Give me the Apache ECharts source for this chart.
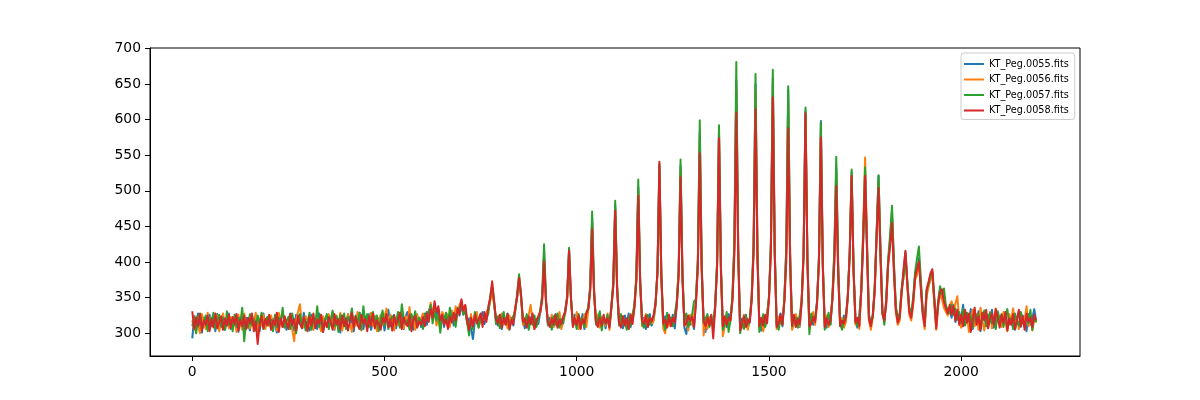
<!DOCTYPE html>
<html><head><meta charset="utf-8">
<script src="https://cdn.jsdelivr.net/npm/echarts@6/dist/echarts.min.js"></script>
<style>html,body{margin:0;padding:0;background:#fff}#c{width:1200px;height:400px}</style>
</head><body><div id="c"></div>
<script>
const seriesNames = ['KT_Peg.0055.fits','KT_Peg.0056.fits','KT_Peg.0057.fits','KT_Peg.0058.fits'];
const xTicks = [0, 500, 1000, 1500, 2000];
const yTicks = [300, 350, 400, 450, 500, 550, 600, 650, 700];

const sampleIndex = [
  0,5,10,15,20,25,30,35,40,45,50,55,60,65,70,75,80,85,90,95,
  100,105,110,115,120,125,130,135,140,145,150,155,160,165,170,175,180,185,190,195,
  200,205,210,215,220,225,230,235,240,245,250,255,260,265,270,275,280,285,290,295,
  300,305,310,315,320,325,330,335,340,345,350,355,360,365,370,375,380,385,390,395,
  400,405,410,415,420,425,430,435,440,445,450,455,460,465,470,475,480,485,490,495,
  500,505,510,515,520,525,530,535,540,545,550,555,560,565,570,575,580,585,590,595,
  600,605,610,615,620,625,630,635,640,645,650,655,660,665,670,675,680,685,690,695,
  700,705,710,715,720,725,730,735,740,745,750,755,760,765,770,775,780,785,790,795,
  800,805,810,815,820,825,830,835,840,845,850,855,860,865,870,875,880,885,890,895,
  900,905,910,915,920,925,930,935,940,945,950,955,960,965,970,975,980,985,990,995,
  1000,1005,1010,1015,1020,1025,1030,1035,1040,1045,1050,1055,1060,1065,1070,1075,1080,1085,1090,1095,
  1100,1105,1110,1115,1120,1125,1130,1135,1140,1145,1150,1155,1160,1165,1170,1175,1180,1185,1190,1195,
  1200,1205,1210,1215,1220,1225,1230,1235,1240,1245,1250,1255,1260,1265,1270,1275,1280,1285,1290,1295,
  1300,1305,1310,1315,1320,1325,1330,1335,1340,1345,1350,1355,1360,1365,1370,1375,1380,1385,1390,1395,
  1400,1405,1410,1415,1420,1425,1430,1435,1440,1445,1450,1455,1460,1465,1470,1475,1480,1485,1490,1495,
  1500,1505,1510,1515,1520,1525,1530,1535,1540,1545,1550,1555,1560,1565,1570,1575,1580,1585,1590,1595,
  1600,1605,1610,1615,1620,1625,1630,1635,1640,1645,1650,1655,1660,1665,1670,1675,1680,1685,1690,1695,
  1700,1705,1710,1715,1720,1725,1730,1735,1740,1745,1750,1755,1760,1765,1770,1775,1780,1785,1790,1795,
  1800,1805,1810,1815,1820,1825,1830,1835,1840,1845,1850,1855,1860,1865,1870,1875,1880,1885,1890,1895,
  1900,1905,1910,1915,1920,1925,1930,1935,1940,1945,1950,1955,1960,1965,1970,1975,1980,1985,1990,1995,
  2000,2005,2010,2015,2020,2025,2030,2035,2040,2045,2050,2055,2060,2065,2070,2075,2080,2085,2090,2095,
  2100,2105,2110,2115,2120,2125,2130,2135,2140,2145,2150,2155,2160,2165,2170,2175,2180,2185,2190,2195
];

const kt0055 = [
  293,324,308,328,312,301,322,315,306,326,310,320,303,327,314,309,323,305,318,328,
  306,321,311,327,302,318,325,308,322,313,304,326,316,309,324,303,319,328,310,317,
  325,307,320,313,301,327,316,309,323,305,318,328,311,304,326,314,320,307,329,312,
  317,304,326,311,321,306,328,313,302,319,325,310,316,329,305,322,312,301,324,315,
  309,327,314,320,303,325,311,329,316,306,322,313,327,305,318,324,308,321,312,326,
  304,322,333,310,318,326,307,321,313,329,306,324,330,311,319,305,327,314,322,309,
  318,328,312,332,338,327,341,322,335,316,324,309,328,314,320,330,311,326,336,325,
  340,326,336,314,321,307,292,318,325,310,322,330,313,327,332,348,362,343,316,311,
  326,306,320,313,328,309,322,311,333,350,376,352,318,307,324,311,321,326,309,320,
  313,330,349,412,345,313,322,308,318,327,310,323,314,320,331,349,418,350,311,326,
  309,320,313,327,306,322,335,364,462,360,318,310,328,315,324,307,321,312,337,369,
  480,365,314,320,307,325,312,328,309,322,338,377,505,372,316,322,306,319,327,311,
  320,341,386,536,380,312,324,309,320,314,326,307,340,386,535,382,308,299,324,312,
  318,306,345,400,582,395,314,302,320,311,325,308,338,397,585,392,312,320,309,327,
  321,350,425,655,418,305,321,312,326,308,317,349,422,650,415,313,304,320,311,325,
  350,424,658,416,311,319,328,310,348,418,642,412,310,324,315,322,309,345,412,612,
  402,314,324,312,320,345,408,598,400,318,308,321,313,350,410,532,392,318,310,325,
  318,352,412,526,390,317,308,322,360,430,528,420,322,312,326,362,440,521,420,330,
  316,346,400,430,470,395,335,318,325,360,385,414,370,332,324,345,380,385,405,370,
  330,312,356,368,378,385,345,310,342,360,352,340,338,330,335,322,340,316,331,314,
  322,340,312,327,318,334,306,325,315,331,303,320,328,310,326,316,333,308,322,329,
  313,324,318,330,307,322,314,328,305,320,331,309,325,316,303,327,312,321,334,317
];

const kt0056 = [
  318,305,324,312,300,327,315,306,329,311,322,308,319,325,303,316,328,310,321,307,
  323,309,319,302,326,314,305,328,312,320,307,324,315,329,303,318,311,326,306,321,
  310,325,313,321,304,329,316,309,322,312,319,327,305,289,318,330,341,314,308,324,
  326,310,322,305,318,328,312,303,324,314,309,327,316,320,306,325,311,329,304,319,
  308,327,316,302,323,311,330,313,304,325,318,306,321,329,310,324,303,317,326,312,
  314,335,309,326,318,304,322,311,329,315,307,324,313,337,310,321,305,327,316,320,
  328,316,330,322,343,327,336,311,320,306,330,324,315,327,309,332,320,338,326,340,
  346,330,338,315,303,327,312,320,330,308,325,316,322,329,335,345,358,340,322,318,
  309,328,313,322,307,325,316,321,336,352,380,350,312,322,310,326,340,318,306,315,
  322,329,347,405,343,318,311,326,309,320,314,330,306,318,328,348,412,346,317,313,
  330,306,321,314,327,309,333,361,455,357,314,326,308,323,316,311,328,305,334,367,
  476,362,320,309,324,312,318,306,327,315,336,375,500,370,310,318,327,309,322,314,
  317,340,384,532,378,307,300,327,311,322,315,326,339,384,530,380,313,318,304,326,
  312,324,344,398,575,392,297,318,306,323,315,309,336,395,580,390,296,310,325,314,
  320,349,422,645,415,311,308,326,314,305,322,348,420,642,412,309,318,303,316,327,
  349,422,650,414,306,323,314,319,346,410,625,405,305,312,327,316,310,344,408,606,
  399,306,318,330,312,343,404,586,395,312,325,309,316,349,405,526,388,311,322,308,
  316,350,410,522,388,312,318,306,362,445,547,428,318,305,322,358,436,512,412,326,
  322,340,396,425,466,390,330,312,318,355,380,408,365,326,318,340,375,382,400,365,
  326,306,352,365,375,383,340,305,338,356,348,336,334,325,338,345,330,342,352,318,
  308,331,314,326,302,322,333,310,327,305,336,318,304,325,312,330,307,321,335,316,
  324,309,330,316,303,327,318,335,311,322,306,329,314,320,338,310,326,304,321,315
];

const kt0057 = [
  310,322,300,319,328,307,316,325,303,321,314,329,307,318,326,310,322,305,331,312,
  319,303,326,309,322,315,336,289,317,308,327,311,320,304,325,313,329,306,318,323,
  312,319,303,326,309,322,315,336,308,317,323,306,328,313,300,320,327,311,318,304,
  316,329,305,321,312,338,309,325,302,319,327,306,318,332,310,324,302,326,314,328,
  306,323,317,335,310,324,314,329,305,338,316,327,309,321,330,312,325,303,320,332,
  311,327,306,318,324,322,315,330,308,341,320,313,319,305,327,318,331,309,322,315,
  306,323,330,325,340,314,331,318,327,301,325,318,329,312,336,320,327,309,330,336,
  343,327,331,315,297,319,306,330,318,308,324,315,328,320,328,352,368,346,313,324,
  307,321,330,313,327,305,318,324,331,356,383,354,320,313,327,305,318,312,325,309,
  319,332,354,425,350,311,316,305,324,312,328,308,320,314,333,352,420,348,314,318,
  306,327,315,321,309,330,336,367,471,364,312,319,331,304,322,313,326,310,338,372,
  486,368,311,327,313,318,305,322,311,326,340,381,516,376,313,308,321,326,312,319,
  323,342,387,538,381,318,305,329,316,322,310,327,344,389,544,385,316,328,309,318,
  326,345,348,405,599,398,315,313,327,309,320,312,340,400,592,395,305,313,330,302,
  319,353,430,681,422,300,316,306,324,312,320,351,427,664,419,302,313,327,309,321,
  352,428,670,420,313,305,320,312,349,420,647,413,310,318,322,308,326,346,414,617,
  405,299,328,316,320,344,406,596,398,305,316,329,312,352,418,548,398,314,305,319,
  324,353,415,530,393,320,311,324,361,438,533,425,326,316,322,366,442,522,418,334,
  312,350,404,438,479,400,338,322,328,362,378,410,372,336,328,350,386,405,422,375,
  332,316,360,370,380,386,348,314,346,366,355,363,340,332,328,340,326,335,319,330,
  315,334,311,329,317,325,308,330,319,327,306,324,332,310,320,329,314,323,306,331,
  319,327,309,324,334,312,321,306,328,317,311,330,320,308,326,314,333,305,322,316
];

const kt0058 = [
  331,306,322,310,327,304,318,312,325,303,320,309,328,307,316,324,305,321,311,326,
  308,323,313,327,304,319,310,325,306,322,314,328,303,317,285,312,324,307,320,311,
  326,305,318,312,329,302,321,309,324,315,306,327,311,320,304,325,313,308,322,316,
  303,324,311,328,307,319,314,326,302,318,309,323,316,305,327,312,320,306,325,310,
  321,304,317,329,308,323,312,306,326,314,320,303,324,311,328,307,318,313,305,322,
  315,327,309,320,304,325,312,318,329,306,322,314,310,326,303,319,324,308,317,312,
  323,310,328,316,334,322,345,330,338,318,326,312,320,306,324,315,329,318,335,327,
  348,332,340,318,305,322,310,326,314,320,328,309,330,316,338,350,373,345,320,314,
  326,308,322,312,327,306,319,313,335,352,378,355,316,320,308,324,313,328,306,318,
  318,330,346,401,344,316,309,321,312,326,308,319,313,324,330,350,416,349,309,321,
  312,325,306,320,314,328,334,360,446,355,316,309,322,311,326,314,321,308,336,366,
  472,361,316,308,324,311,321,306,326,313,337,373,493,369,318,313,325,309,322,317,
  326,343,388,541,383,314,319,308,326,310,322,315,338,380,519,375,311,314,325,318,
  323,309,341,392,553,387,318,310,322,312,326,293,335,392,574,388,310,324,312,322,
  318,346,410,610,405,304,313,324,309,320,315,347,412,615,404,310,322,311,326,314,
  348,415,631,408,309,314,326,312,344,400,588,394,311,326,309,320,313,345,410,609,
  401,310,313,323,316,342,398,575,392,309,321,312,318,348,398,507,382,310,318,314,
  322,351,412,521,386,315,322,310,358,428,521,415,320,310,326,360,438,504,405,328,
  318,343,398,422,455,386,332,315,322,358,390,416,368,330,322,343,378,390,401,362,
  328,310,362,372,384,390,350,307,340,359,362,345,336,328,340,326,338,318,333,312,
  326,310,333,315,328,302,320,336,312,324,305,329,318,333,307,320,328,312,334,322,
  308,326,315,330,304,321,312,327,306,319,333,310,324,305,328,316,322,309,326,318
];

const seriesValues = [kt0055, kt0056, kt0057, kt0058];
const colors = ['#1f77b4', '#ff7f0e', '#2ca02c', '#d62728'];
const FONT = 'DejaVu Sans';

const chart = echarts.init(document.getElementById('c'), null, {renderer: 'canvas'});
chart.setOption({
  animation: false,
  backgroundColor: '#ffffff',
  grid: {left: 150, top: 48, right: 120, bottom: 44, show: true, borderColor: '#000', borderWidth: 1, backgroundColor: 'transparent'},
  legend: {
    left: 961, top: 53, orient: 'vertical',
    icon: 'rect', itemWidth: 20, itemHeight: 2, itemGap: 3.5,
    padding: [5, 6, 3, 3],
    borderColor: '#cccccc', borderWidth: 1, borderRadius: 3,
    backgroundColor: 'rgba(255,255,255,0.8)',
    textStyle: {fontFamily: FONT, fontSize: 9.7, color: '#000', lineHeight: 12},
    data: seriesNames
  },
  xAxis: {
    type: 'value', min: -110, max: 2309,
    splitLine: {show: false},
    axisLine: {show: true, onZero: false, lineStyle: {color: '#000', width: 1}},
    axisTick: {show: true, inside: false, length: 5, lineStyle: {color: '#000', width: 1}, customValues: xTicks},
    axisLabel: {color: '#000', fontFamily: FONT, fontSize: 13.9, margin: 9, customValues: xTicks,
      formatter: v => String(v)}
  },
  yAxis: {
    type: 'value', min: 268.2, max: 700.6,
    splitLine: {show: false},
    axisLine: {show: true, onZero: false, lineStyle: {color: '#000', width: 1}},
    axisTick: {show: true, inside: false, length: 5, lineStyle: {color: '#000', width: 1}, customValues: yTicks},
    axisLabel: {color: '#000', fontFamily: FONT, fontSize: 13.9, margin: 9, customValues: yTicks,
      formatter: v => String(v)}
  },
  series: seriesNames.map((name, i) => ({
    name: name, type: 'line', symbol: 'none', showSymbol: false,
    sampling: false,
    color: colors[i],
    lineStyle: {color: colors[i], width: 2, join: 'round', cap: 'butt'},
    emphasis: {disabled: true},
    data: sampleIndex.map((x, k) => [x, seriesValues[i][k]])
  }))
});
</script></body></html>
